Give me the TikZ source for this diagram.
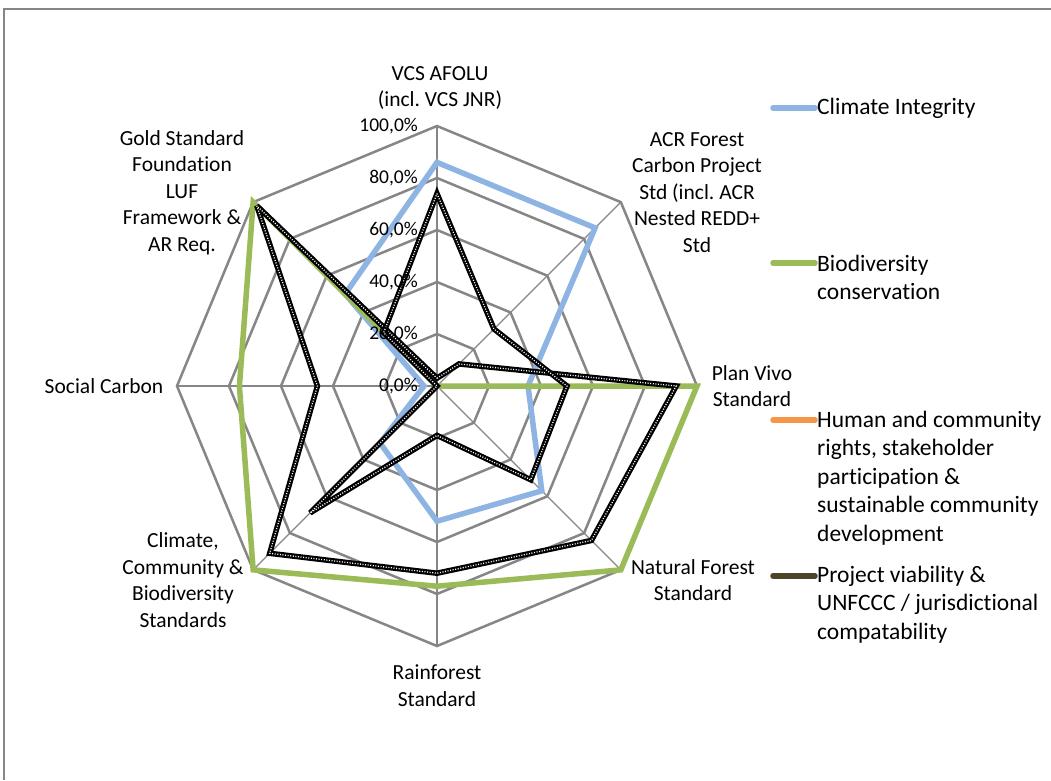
\documentclass[tikz,border=0pt]{standalone}
\usepackage{fontspec}
\setmainfont{Carlito}[Ligatures=NoCommon]
\usetikzlibrary{calc}
\definecolor{gridgray}{HTML}{868686}
\definecolor{ciblue}{HTML}{8EB4E3}
\definecolor{bdgreen}{HTML}{9BBB59}
\definecolor{hcorange}{HTML}{F79646}
\definecolor{pvolive}{HTML}{4A452A}
\def\R{260}
\frenchspacing
\begin{document}
\begin{tikzpicture}[x=1pt,y=-1pt,
  axlabel/.style={font=\fontsize{21.5}{26.5}\selectfont, align=center, inner sep=0pt},
  pctlabel/.style={font=\fontsize{19.5}{24}\selectfont, anchor=east, inner sep=0pt},
  legtext/.style={font=\fontsize{23.5}{28.5}\selectfont, align=left, anchor=west, inner sep=0pt},
  ring/.style={draw=gridgray, line width=2.5pt},
  spokemain/.style={draw=gridgray, line width=2.5pt},
  spokediag/.style={draw=gridgray, line width=1.2pt},
  series/.style={line width=5.5pt, line join=miter, miter limit=4},
  hatchtop/.style={draw=white, line width=1.3pt, dash pattern=on 1pt off 1.6pt, line join=miter, miter limit=4},
  legline/.style={line width=5.5pt, line cap=round}]
\useasboundingbox (0,0) rectangle (1051,780);
\fill[white] (0,0) rectangle (1051,780);
% outer frame
\draw[gridgray, line width=2pt] (1051,9) -- (4,9) -- (4,780);

\begin{scope}[shift={(437,386)}, y=1pt]
  \coordinate (C) at (0,0);
  % rings
  \foreach \k in {1,...,5}{
    \draw[ring] (90:{52*\k}) -- (45:{52*\k}) -- (0:{52*\k}) -- (-45:{52*\k}) -- (-90:{52*\k}) -- (-135:{52*\k}) -- (180:{52*\k}) -- (135:{52*\k}) -- cycle;
  }
  % spokes
  \foreach \a in {90,0,-90,180}{ \draw[spokemain] (C) -- (\a:\R); }
  \foreach \a in {45,-45,-135,135}{ \draw[spokediag] (C) -- (\a:\R); }

  % Climate Integrity
  \draw[series, ciblue] (90:{0.86*\R}) -- (45:{0.86*\R}) -- (0:{0.35*\R}) -- (-45:{0.57*\R}) -- (-90:{0.52*\R}) -- (-135:{0.31*\R}) -- (180:{0.05*\R}) -- (135:{0.50*\R}) -- cycle;
  % Biodiversity conservation
  \draw[series, bdgreen] (90:{0.0*\R}) -- (45:{0.0*\R}) -- (0:{1.0*\R}) -- (-45:{1.0*\R}) -- (-90:{0.77*\R}) -- (-135:{1.0*\R}) -- (180:{0.76*\R}) -- (135:{1.0*\R}) -- cycle;
  % Human and community rights (printed as hatched)
  \draw[series, black] (90:{0.03*\R}) -- (45:{0.12*\R}) -- (0:{0.92*\R}) -- (-45:{0.84*\R}) -- (-90:{0.72*\R}) -- (-135:{0.91*\R}) -- (180:{0.46*\R}) -- (135:{0.98*\R}) -- cycle;
  \draw[hatchtop] (90:{0.03*\R}) -- (45:{0.12*\R}) -- (0:{0.92*\R}) -- (-45:{0.84*\R}) -- (-90:{0.72*\R}) -- (-135:{0.91*\R}) -- (180:{0.46*\R}) -- (135:{0.98*\R}) -- cycle;
  % Project viability (printed as hatched)
  \draw[series, black] (90:{0.74*\R}) -- (45:{0.31*\R}) -- (0:{0.50*\R}) -- (-45:{0.51*\R}) -- (-90:{0.19*\R}) -- (-135:{0.69*\R}) -- (180:{0.0*\R}) -- (135:{0.29*\R}) -- cycle;
  \draw[hatchtop] (90:{0.74*\R}) -- (45:{0.31*\R}) -- (0:{0.50*\R}) -- (-45:{0.51*\R}) -- (-90:{0.19*\R}) -- (-135:{0.69*\R}) -- (180:{0.0*\R}) -- (135:{0.29*\R}) -- cycle;
\end{scope}

% percent labels
\node[pctlabel] (p100) at (418,126) {100,0\%};
\node[pctlabel] (p80) at (418,178) {80,0\%};
\node[pctlabel] (p60) at (418,230) {60,0\%};
\node[pctlabel] (p40) at (418,282) {40,0\%};
\node[pctlabel] (p20) at (418,334) {20,0\%};
\node[pctlabel] (p0) at (418,386) {0,0\%};

% axis labels
\node[axlabel] (vcs) at (440,88) {VCS AFOLU\\(incl. VCS JNR)};
\node[axlabel] (acr) at (697,192.5) {ACR Forest\\Carbon Project\\Std (incl. ACR\\Nested REDD+\\Std};
\node[axlabel] (pv) at (752,386) {Plan Vivo\\Standard};
\node[axlabel] (nf) at (693,580) {Natural Forest\\Standard};
\node[axlabel] (rf) at (437,685.5) {Rainforest\\Standard};
\node[axlabel] (ccb) at (183,580) {Climate,\\Community \&\\Biodiversity\\Standards};
\node[axlabel] (sc) at (104,386) {Social Carbon};
\node[axlabel] (gs) at (182,192.5) {Gold Standard\\Foundation\\LUF\\Framework \&\\AR Req.};

% legend
\coordinate (l1a) at (773,108); \coordinate (l1b) at (815,108);
\draw[legline, ciblue] (l1a) -- (l1b);
\node[legtext] (t1) at (817,108) {Climate Integrity};
\coordinate (l2a) at (773,263); \coordinate (l2b) at (815,263);
\draw[legline, bdgreen] (l2a) -- (l2b);
\node[legtext] (t2) at (817,277.5) {Biodiversity\\conservation};
\coordinate (l3a) at (773,420); \coordinate (l3b) at (815,420);
\draw[legline, hcorange] (l3a) -- (l3b);
\node[legtext] (t3) at (817,478) {Human and community\\rights, stakeholder\\participation \&\\sustainable community\\development};
\coordinate (l4a) at (773,576); \coordinate (l4b) at (815,576);
\draw[legline, pvolive] (l4a) -- (l4b);
\node[legtext] (t4) at (817,604.5) {Project viability \&\\UNFCCC / jurisdictional\\compatability};
\end{tikzpicture}
\end{document}
